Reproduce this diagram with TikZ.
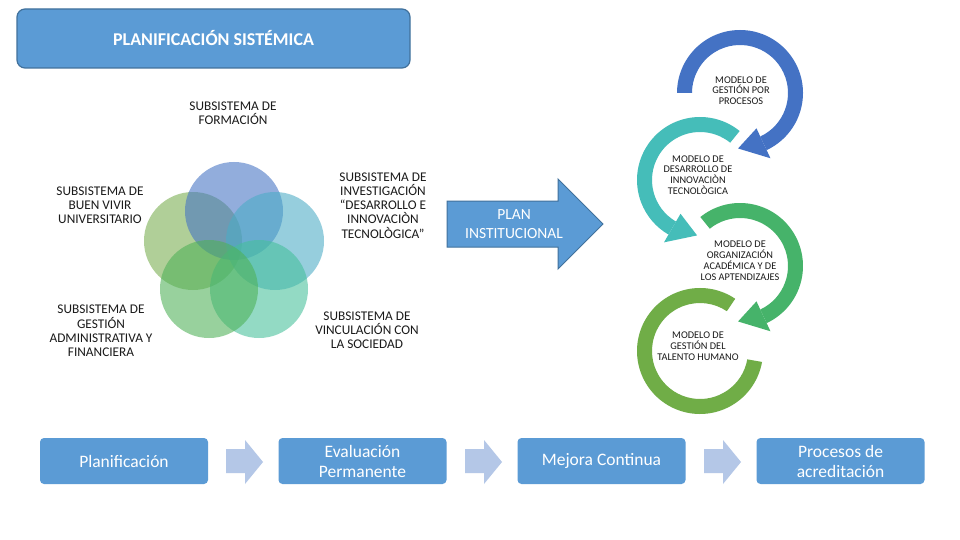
\documentclass[tikz,border=0pt]{standalone}
\usepackage{fontspec}
\setmainfont{Carlito}
\usetikzlibrary{calc}
\definecolor{boxblue}{HTML}{5B9BD5}
\definecolor{boxedge}{HTML}{41719C}
\definecolor{arrowlight}{HTML}{B4C7E7}
\definecolor{ringblue}{HTML}{4472C4}
\definecolor{ringteal}{HTML}{45BDB9}
\definecolor{ringgreen}{HTML}{46B36A}
\definecolor{ringlgreen}{HTML}{70AD47}
\definecolor{vtop}{HTML}{4472C4}
\definecolor{vur}{HTML}{4BACC6}
\definecolor{vul}{HTML}{78AE4E}
\definecolor{vll}{HTML}{4EB157}
\definecolor{vlr}{HTML}{45C09B}
\definecolor{txt}{HTML}{1A1A1A}
\tikzset{
  titlebox/.style={draw=boxedge, line width=1.2pt, fill=boxblue, rounded corners=8pt,
    minimum width=393pt, minimum height=59pt, text=white,
    font=\fontsize{18}{20}\selectfont\bfseries},
  stagebox/.style={fill=boxblue, rounded corners=4pt, minimum width=168pt, minimum height=46pt,
    text=white, align=center, font=\fontsize{17.5}{20}\selectfont},
  sublabel/.style={align=center, text=txt, inner sep=0pt, font=\fontsize{13.3}{14.2}\selectfont},
  ringlabel/.style={align=center, text=txt, inner sep=0pt, font=\fontsize{10.3}{10.8}\selectfont},
  venn/.style={fill opacity=0.58},
  flowarrow/.style={fill=arrowlight}
}
\begin{document}
\begin{tikzpicture}[x=1pt,y=-1pt]
\useasboundingbox (0,0) rectangle (960,540);
\fill[white] (0,0) rectangle (960,540);

% title
\node[titlebox] (title) at (213.5,38.5) {PLANIFICACIÓN SISTÉMICA};

% venn circles
\coordinate (vT) at (234,211);
\coordinate (vUR) at (275,241);
\coordinate (vUL) at (193,241);
\coordinate (vLR) at (259,289);
\coordinate (vLL) at (209,289);
\fill[venn, vul] (vUL) circle[radius=49];
\fill[venn, vtop] (vT) circle[radius=49];
\fill[venn, vur] (vUR) circle[radius=49];
\fill[venn, vlr] (vLR) circle[radius=49];
\fill[venn, vll] (vLL) circle[radius=49];

% subsystem labels
\node[sublabel] (form) at (233,113) {SUBSISTEMA DE\\FORMACIÓN};
\node[sublabel] (buen) at (100,205) {SUBSISTEMA DE\\BUEN VIVIR\\UNIVERSITARIO};
\node[sublabel] (inv) at (383,205.5) {SUBSISTEMA DE\\INVESTIGACIÓN\\“DESARROLLO E\\INNOVACIÒN\\TECNOLÒGICA”};
\node[sublabel] (gest) at (101,331) {SUBSISTEMA DE\\GESTIÓN\\ADMINISTRATIVA Y\\FINANCIERA};
\node[sublabel] (vinc) at (367,330.5) {SUBSISTEMA DE\\VINCULACIÓN CON\\LA SOCIEDAD};

% plan institucional arrow
\draw[fill=boxblue, draw=boxedge, line width=1pt]
  (447,201) -- (558,201) -- (558,179) -- (603,224) -- (558,269) -- (558,247) -- (447,247) -- cycle;
\node[align=center, text=white, inner sep=0pt, font=\fontsize{15.5}{19}\selectfont] (plan) at (514,224.5) {PLAN\\INSTITUCIONAL};

% circular arrows
\coordinate (cB) at (740,93);
\coordinate (cT) at (700,180);
\coordinate (cG) at (740,266);
\coordinate (cL) at (700,351);

\fill[ringlgreen] ($(cL)+(304:63)$) arc[start angle=304,end angle=10,radius=63]
  -- ($(cL)+(10:48)$) arc[start angle=10,end angle=304,radius=48] -- cycle;

\fill[ringgreen] ($(cG)+(231:63)$) arc[start angle=231,end angle=425,radius=63]
  -- ($(cG)+(425:48)$) arc[start angle=425,end angle=231,radius=48] -- cycle;
\fill[ringgreen] ($(cG)+(425:39)$) -- ($(cG)+(425:72)$) -- ($(cG)+(452:55.5)$) -- cycle;

\fill[ringteal] ($(cT)+(309:63)$) arc[start angle=309,end angle=120,radius=63]
  -- ($(cT)+(120:48)$) arc[start angle=120,end angle=309,radius=48] -- cycle;
\fill[ringteal] ($(cT)+(120:39)$) -- ($(cT)+(120:72)$) -- ($(cT)+(93:55.5)$) -- cycle;

\fill[ringblue] ($(cB)+(180:63)$) arc[start angle=180,end angle=425,radius=63]
  -- ($(cB)+(425:48)$) arc[start angle=425,end angle=180,radius=48] -- cycle;
\fill[ringblue] ($(cB)+(425:39)$) -- ($(cB)+(425:72)$) -- ($(cB)+(452:55.5)$) -- cycle;

\node[ringlabel] (m1) at (741,90.5) {MODELO DE\\GESTIÓN POR\\PROCESOS};
\node[ringlabel] (m2) at (698,175) {MODELO DE\\DESARROLLO DE\\INNOVACIÒN\\TECNOLÒGICA};
\node[ringlabel] (m3) at (740,260.5) {MODELO DE\\ORGANIZACIÓN\\ACADÉMICA Y DE\\LOS APTENDIZAJES};
\node[ringlabel] (m4) at (698,346) {MODELO DE\\GESTIÓN DEL\\TALENTO HUMANO};

% bottom stages
\node[stagebox] (s1) at (124,461) {Planificación};
\node[stagebox] (s2) at (362.5,461) {Evaluación\\Permanente};
\node[stagebox] (s3) at (601.5,461) {Mejora Continua};
\node[stagebox] (s4) at (840.5,461) {Procesos de\\acreditación};

\foreach \ax in {226,465,704}{
  \fill[flowarrow] (\ax,449) -- (\ax+19,449) -- (\ax+19,440) -- (\ax+37,462)
    -- (\ax+19,484) -- (\ax+19,473) -- (\ax,473) -- cycle;
}
\end{tikzpicture}
\end{document}
